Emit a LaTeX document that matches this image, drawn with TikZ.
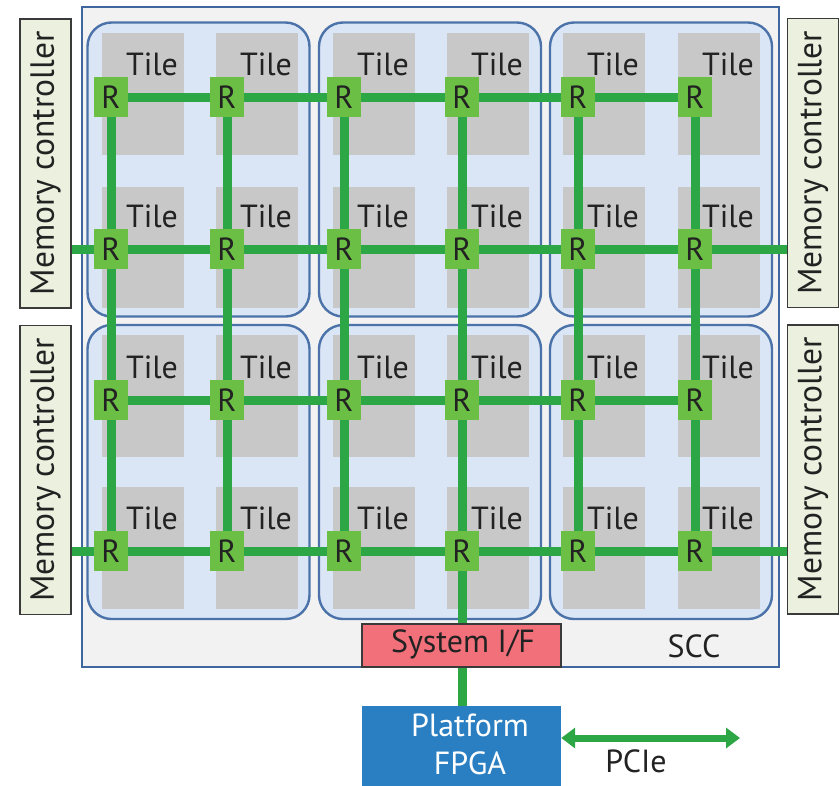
\documentclass[tikz,border=0pt]{standalone}
\usepackage{fontspec}
\setmainfont{PT Sans}
\usetikzlibrary{arrows.meta}

\pgfdeclarelayer{bg}
\pgfdeclarelayer{links}
\pgfsetlayers{bg,links,main}

\definecolor{sccfill}{HTML}{F2F2F2}
\definecolor{sccline}{HTML}{3F679E}
\definecolor{quadfill}{HTML}{DAE6F5}
\definecolor{quadline}{HTML}{4B73A9}
\definecolor{tilegray}{HTML}{C8C8C8}
\definecolor{routerfill}{HTML}{6CBF45}
\definecolor{linkgreen}{HTML}{2DA646}
\definecolor{mcfill}{HTML}{EBF1DE}
\definecolor{mcline}{HTML}{3A3A3A}
\definecolor{sysfill}{HTML}{F2707A}
\definecolor{fpgafill}{HTML}{2A7FC2}
\definecolor{ink}{HTML}{222222}

\begin{document}
\begin{tikzpicture}[x=1pt,y=-1pt,
  font=\fontsize{32}{38}\selectfont,
  every node/.style={text=ink},
  sccbox/.style={draw=sccline,line width=2pt,fill=sccfill,inner sep=0pt},
  quad/.style={draw=quadline,line width=2.4pt,fill=quadfill,rounded corners=24pt,
    inner sep=0pt,minimum width=222pt,minimum height=294pt},
  tilelabel/.style={anchor=base,inner sep=0pt},
  router/.style={fill=routerfill,inner sep=0pt,minimum width=34pt,minimum height=40pt},
  link/.style={draw=linkgreen,line width=9pt},
  mcbox/.style={draw=mcline,line width=1.5pt,fill=mcfill,inner sep=0pt,
    minimum width=51pt,minimum height=289pt},
  mctext/.style={rotate=90,font=\fontsize{33.5}{40}\selectfont},
  sysbox/.style={draw=mcline,line width=1.5pt,fill=sysfill,inner sep=0pt,
    minimum width=199pt,minimum height=43pt},
  fpgabox/.style={fill=fpgafill,inner sep=0pt,minimum width=199pt,minimum height=80pt},
  pcie/.style={draw=linkgreen,line width=7pt,
    {Triangle[length=14pt,width=20pt]}-{Triangle[length=14pt,width=20pt]}}
]
\useasboundingbox (0,0) rectangle (840,785);

% chip outline, quadrants and tiles
\begin{pgfonlayer}{bg}
  \node[sccbox,minimum width=697pt,minimum height=660pt] (scc) at (430.5,337) {};
  \foreach \qx [count=\a] in {198.5,430,661}
    \foreach \qy [count=\b] in {169.5,472}
      \node[quad] (q-\a-\b) at (\qx,\qy) {};
  \foreach \tl in {102,216,333,447,563,678}
    \foreach \tt/\tb in {33/155,187/308,335/457,487/609}
      \fill[tilegray] (\tl,\tt) rectangle ({\tl+82},\tb);
\end{pgfonlayer}

% tile labels and routers
\foreach \tl/\rx [count=\i] in {102/111,216/227,333/344,447/462,563/578,678/695}
  \foreach \ry [count=\j] in {97,249,400,551} {
    \node[tilelabel] (t-\i-\j) at ({\tl+50},{\ry-22}) {Tile};
    \node[router] (r-\i-\j) at (\rx,\ry) {R};
  }

% memory controllers
\node[mcbox,label={[mctext]center:Memory controller}] (mcl1) at (45.5,163.5) {};
\node[mcbox,label={[mctext]center:Memory controller}] (mcl2) at (45.5,470) {};
\node[mcbox,label={[mctext]center:Memory controller}] (mcr1) at (813,163) {};
\node[mcbox,label={[mctext]center:Memory controller}] (mcr2) at (813,469.5) {};

% system interface and FPGA
\node[sysbox] (sysif) at (461.5,645.5) {};
\node (syslabel) at (463,644) {System I/F};
\node (scclabel) at (694,646) {SCC};
\node[fpgabox] (fpga) at (461.5,746) {};
\node[align=center,text=white,inner sep=0pt,font=\fontsize{32}{38}\selectfont] (fpgalabel) at (470,744) {Platform\\FPGA};

% mesh links
\begin{pgfonlayer}{links}
  \foreach \j in {1,2,3,4}
    \foreach \i/\n in {1/2,2/3,3/4,4/5,5/6}
      \draw[link] (r-\i-\j.center) -- (r-\n-\j.center);
  \foreach \i in {1,2,3,4,5,6}
    \foreach \j/\n in {1/2,2/3,3/4}
      \draw[link] (r-\i-\j.center) -- (r-\i-\n.center);
  \draw[link] (mcl1.east |- r-1-2) -- (r-1-2.center);
  \draw[link] (mcl2.east |- r-1-4) -- (r-1-4.center);
  \draw[link] (r-6-2.center) -- (mcr1.west |- r-6-2);
  \draw[link] (r-6-4.center) -- (mcr2.west |- r-6-4);
  \draw[link] (r-4-4.center) -- (r-4-4 |- sysif.north);
  \draw[link] (r-4-4 |- sysif.south) -- (r-4-4 |- fpga.north);
\end{pgfonlayer}

% PCIe link
\coordinate (pcieend) at (740,738);
\draw[pcie] (pcieend -| fpga.east) -- (pcieend);
\node (pcielabel) at (636,761) {PCIe};
\end{tikzpicture}
\end{document}
